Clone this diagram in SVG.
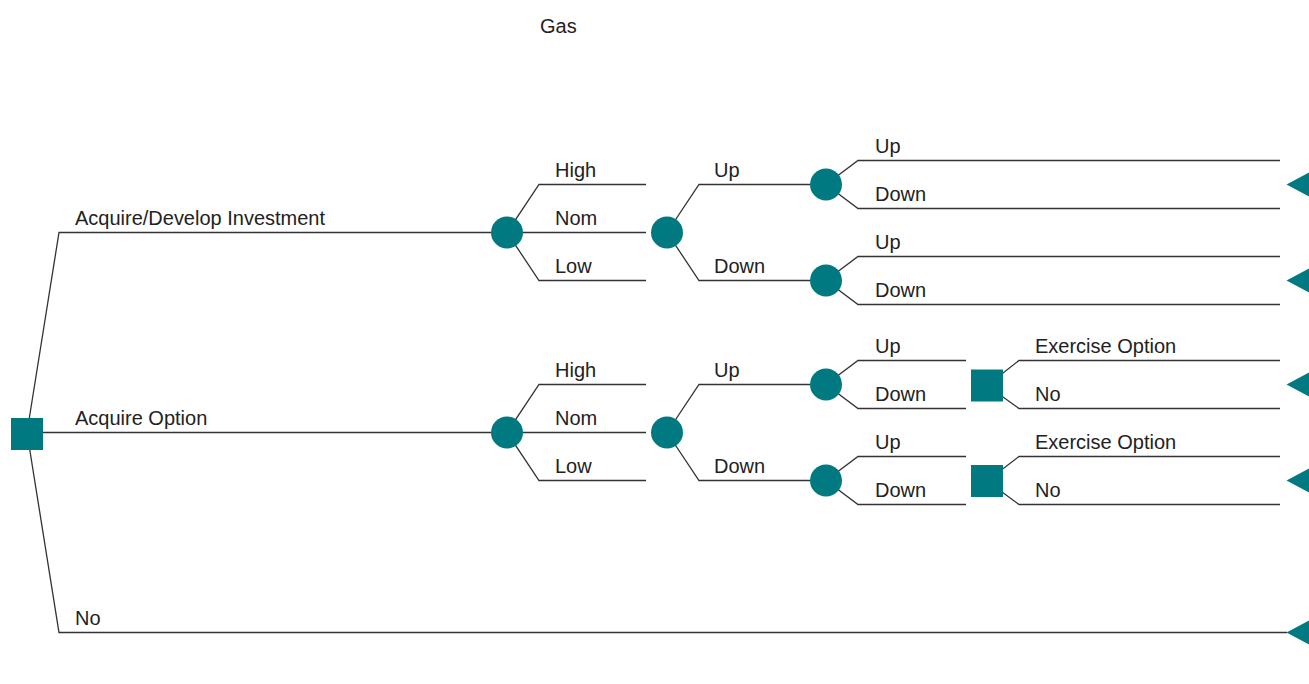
<svg xmlns="http://www.w3.org/2000/svg" width="1309" height="684" viewBox="0 0 1309 684">
<style>
.bg{fill:#ffffff}
.ln{fill:none;stroke:#333333;stroke-width:1.3}
.chance{fill:#007a80}
.dec{fill:#007a80}
.term{fill:#007a80}
text{font-family:"Liberation Sans",Arial,sans-serif;font-size:20px;fill:#222222}
</style>
<rect class="bg" x="0" y="0" width="1309" height="684"/>
<text x="540" y="32.5">Gas</text>
<g id="connectors">
<path class="ln" d="M27,432.5 L59,232.5 L507,232.5"/>
<path class="ln" d="M27,432.5 L507,432.5"/>
<path class="ln" d="M27,432.5 L59,632.5 L1287,632.5"/>
<path class="ln" d="M507,232.5 L539,184.5 L646,184.5 M507,232.5 L646,232.5 M507,232.5 L539,280.5 L646,280.5"/>
<path class="ln" d="M667,232.5 L699,184.5 L826,184.5 M667,232.5 L699,280.5 L826,280.5"/>
<path class="ln" d="M826,184.5 L858,160.5 L1280,160.5 M826,184.5 L858,208.5 L1280,208.5"/>
<path class="ln" d="M826,280.5 L858,256.5 L1280,256.5 M826,280.5 L858,304.5 L1280,304.5"/>
<path class="ln" d="M507,432.5 L539,384.5 L646,384.5 M507,432.5 L646,432.5 M507,432.5 L539,480.5 L646,480.5"/>
<path class="ln" d="M667,432.5 L699,384.5 L826,384.5 M667,432.5 L699,480.5 L826,480.5"/>
<path class="ln" d="M826,384.5 L858,360.5 L966,360.5 M826,384.5 L858,408.5 L966,408.5"/>
<path class="ln" d="M826,480.5 L858,456.5 L966,456.5 M826,480.5 L858,504.5 L966,504.5"/>
<path class="ln" d="M987,385.5 L1019,360.5 L1280,360.5 M987,385.5 L1019,408.5 L1280,408.5"/>
<path class="ln" d="M987,481 L1019,456.5 L1280,456.5 M987,481 L1019,504.5 L1280,504.5"/>
</g>
<g id="root"><rect class="dec" x="11" y="418" width="32" height="32"/></g>
<g id="c1"><circle class="chance" cx="507" cy="232.5" r="16"/></g>
<g id="c2"><circle class="chance" cx="667" cy="232.5" r="16"/></g>
<g id="c3"><circle class="chance" cx="826" cy="184.5" r="16"/></g>
<g id="c4"><circle class="chance" cx="826" cy="280.5" r="16"/></g>
<g id="c5"><circle class="chance" cx="507" cy="432.5" r="16"/></g>
<g id="c6"><circle class="chance" cx="667" cy="432.5" r="16"/></g>
<g id="c7"><circle class="chance" cx="826" cy="384.5" r="16"/></g>
<g id="c8"><circle class="chance" cx="826" cy="480.5" r="16"/></g>
<g id="d1"><rect class="dec" x="971" y="369.5" width="32" height="32"/></g>
<g id="d2"><rect class="dec" x="971" y="465" width="32" height="32"/></g>
<g id="t1"><polygon class="term" points="1286.5,184.5 1309,172.5 1309,196.5"/></g>
<g id="t2"><polygon class="term" points="1286.5,280.5 1309,268.5 1309,292.5"/></g>
<g id="t3"><polygon class="term" points="1286.5,384.5 1309,372.5 1309,396.5"/></g>
<g id="t4"><polygon class="term" points="1286.5,480.5 1309,468.5 1309,492.5"/></g>
<g id="t5"><polygon class="term" points="1286.5,632.5 1309,620.5 1309,644.5"/></g>
<g id="labels">
<text x="75" y="224.5" textLength="250" lengthAdjust="spacingAndGlyphs">Acquire/Develop Investment</text>
<text x="75" y="424.5">Acquire Option</text>
<text x="75" y="624.5">No</text>
<text x="555" y="176.5">High</text>
<text x="555" y="224.5">Nom</text>
<text x="555" y="272.5">Low</text>
<text x="714" y="176.5">Up</text>
<text x="714" y="272.5">Down</text>
<text x="875" y="152.5">Up</text>
<text x="875" y="200.5">Down</text>
<text x="875" y="248.5">Up</text>
<text x="875" y="296.5">Down</text>
<text x="555" y="376.5">High</text>
<text x="555" y="424.5">Nom</text>
<text x="555" y="472.5">Low</text>
<text x="714" y="376.5">Up</text>
<text x="714" y="472.5">Down</text>
<text x="875" y="352.5">Up</text>
<text x="875" y="400.5">Down</text>
<text x="875" y="448.5">Up</text>
<text x="875" y="496.5">Down</text>
<text x="1035" y="352.5">Exercise Option</text>
<text x="1035" y="400.5">No</text>
<text x="1035" y="448.5">Exercise Option</text>
<text x="1035" y="496.5">No</text>
</g>
</svg>
